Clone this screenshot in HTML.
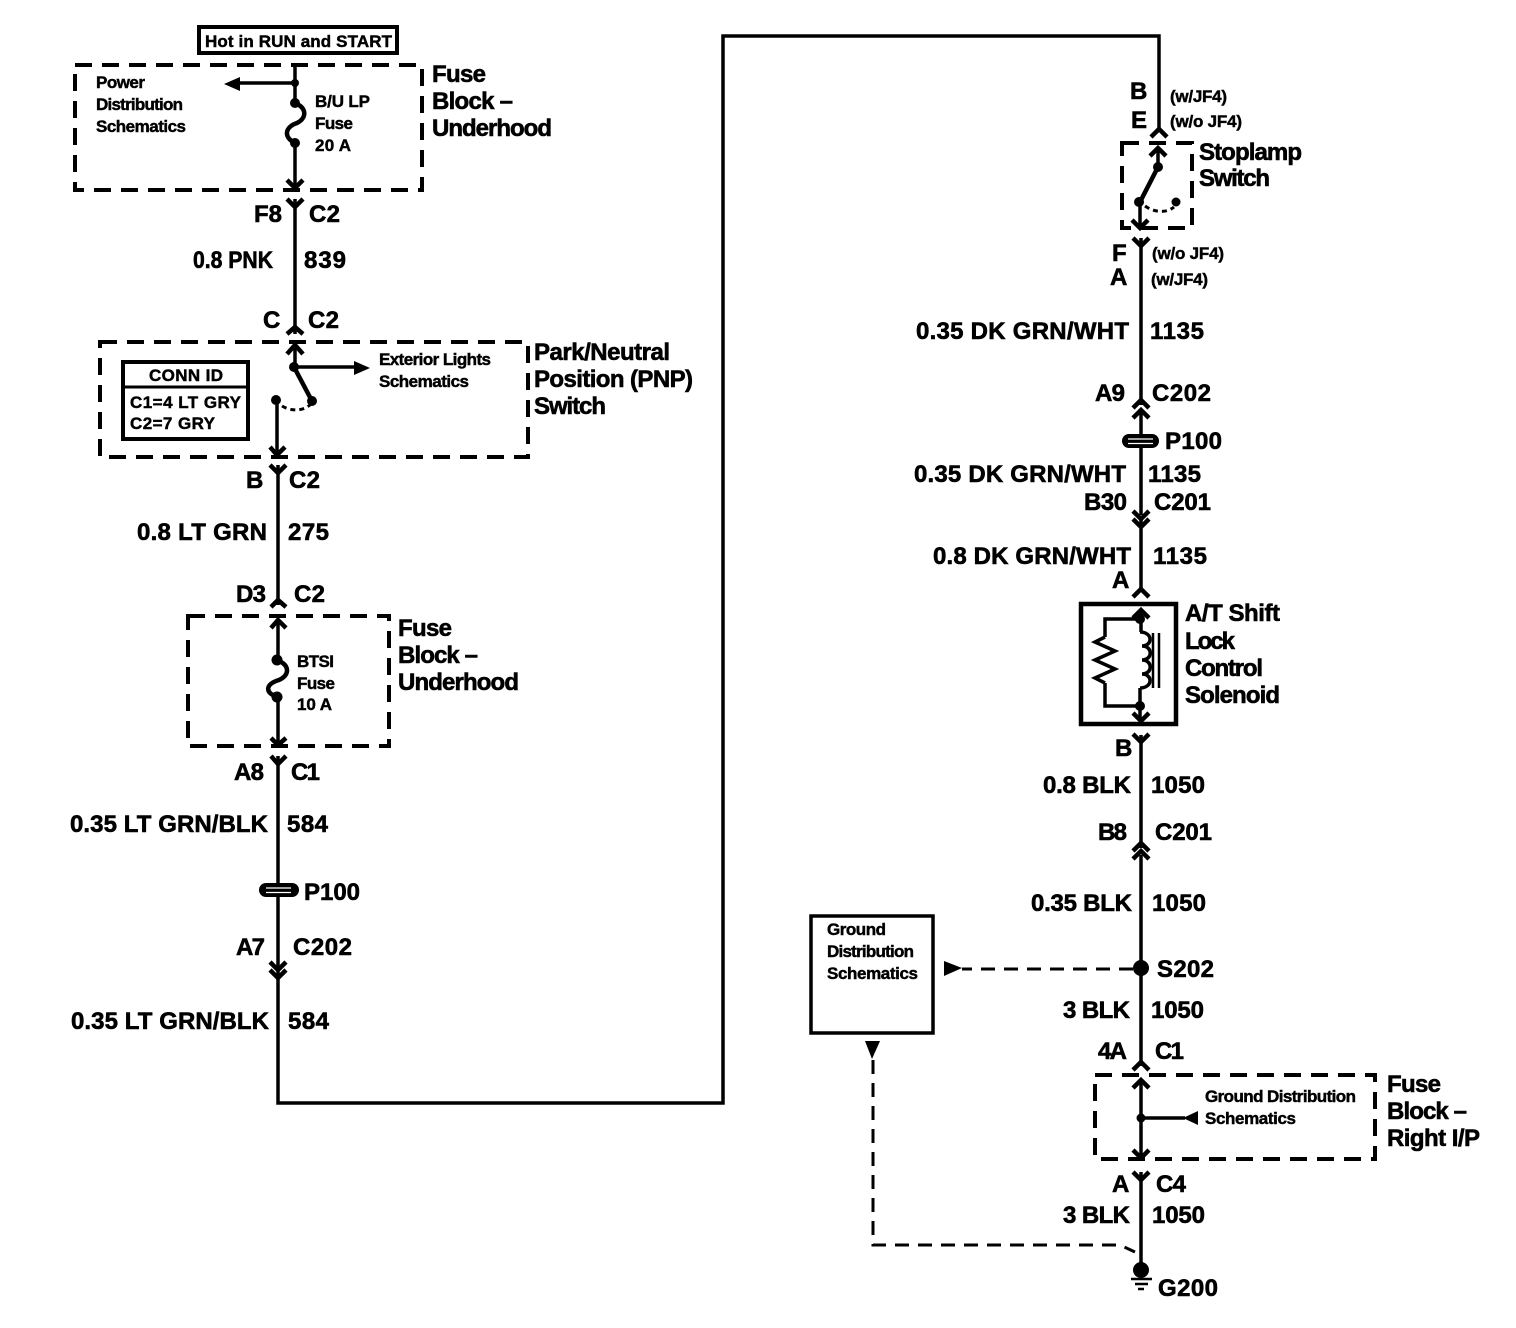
<!DOCTYPE html>
<html><head><meta charset="utf-8"><style>
html,body{margin:0;padding:0;background:#fff}
svg{display:block}
text{font-family:"Liberation Sans",sans-serif;font-weight:bold;fill:#000;stroke:#000}
.b{font-size:24px;stroke-width:.6}
.s{font-size:17px;stroke-width:.45}
.w{fill:none;stroke:#000;stroke-width:3.5}
.f{fill:none;stroke:#000;stroke-width:4.5}
.t{fill:none;stroke:#000;stroke-width:3}
.d{fill:none;stroke:#000;stroke-width:4;stroke-dasharray:17 10}
</style></head><body>
<svg width="1516" height="1328" viewBox="0 0 1516 1328" xmlns="http://www.w3.org/2000/svg">
<rect width="1516" height="1328" fill="#fff"/>
<!-- boxes -->
<rect x="199" y="27" width="198" height="26" fill="none" stroke="#000" stroke-width="4"/>
<rect class="d" x="75" y="65" width="347" height="125"/>
<rect class="d" x="100" y="342" width="428" height="115"/>
<rect class="d" x="188" y="616" width="201" height="130"/>
<rect class="d" x="1122" y="143" width="70" height="85"/>
<rect class="d" x="1095" y="1075" width="280" height="84"/>
<rect x="811" y="916" width="122" height="117" fill="none" stroke="#000" stroke-width="3.5"/>
<rect x="123" y="362" width="125" height="77" fill="none" stroke="#000" stroke-width="4"/>
<path d="M123 387H248" class="t"/>
<rect x="1081" y="604" width="95" height="120" fill="none" stroke="#000" stroke-width="4.5"/>
<!-- left wires -->
<path class="w" d="M295 65V103M295 83H238M295 143V188M295 199V334M295 346V367M277 400V455M278 465V605M278 620V660M278 697V744M278 756V1103H723V36H1159V132"/>
<path class="f" d="M294 367L312 401"/>
<path class="f" d="M295 103C307 108 307 118 297 123C285 127 283 137 295 143M277 660C290 665 290 675 279 680C266 684 264 692 277 697"/>
<path d="M224 84L240 77V91Z"/>
<path class="w" d="M295 367H355"/>
<path d="M370 368L354 361V375Z"/>
<circle cx="295" cy="83" r="4"/><circle cx="295" cy="103" r="5"/><circle cx="295" cy="143" r="5"/>
<circle cx="294" cy="367" r="5"/><circle cx="312" cy="401" r="5"/><circle cx="276" cy="400" r="5"/>
<circle cx="277" cy="660" r="5.5"/><circle cx="277" cy="697" r="5.5"/>
<path class="t" stroke-dasharray="5 4" d="M282 406C292 412 304 411 311 404"/>
<!-- chevrons left -->
<path class="f" stroke-width="4" d="M287 180L295 188L303 180M287 199L295 207L303 199M287 334L295 327L303 334M287 354L295 345L303 354M270 447L277 455L285 447M270 465L278 473L286 465M271 607L278 600L286 607M271 628L278 620L286 628M271 738L278 745L286 738M271 756L278 764L286 756M270 962L278 970L286 962M270 970L278 978L286 970"/>
<rect x="259" y="883" width="40" height="14" rx="7"/><path d="M266 888H291M266 892.500H291" stroke="#fff" stroke-width="1.2"/>
<!-- right wires -->
<path class="w" d="M1158 148V167M1140 202V226M1141 238V405M1141 412V515M1141 520V592M1141 610V632M1140 688V706M1140 706V720M1141 735V848M1141 855V1066M1141 1080V1155M1141 1172V1268M1141 1118H1185"/>
<path class="f" d="M1158 167L1140 202"/>
<path class="w" d="M1140 706H1105V683M1105 637V619H1140"/>
<path class="w" d="M1105 637L1095 642L1115 651L1095 660L1115 669L1095 678L1105 683"/>
<path class="w" d="M1140 632C1153 632 1153 646 1142 646C1153 646 1153 660 1142 660C1153 660 1153 674 1142 674C1153 674 1153 688 1140 688"/>
<path fill="none" stroke="#000" stroke-width="2.5" d="M1153 633V688M1159 633V688"/>
<path class="f" stroke-width="4" d="M1151 137L1159 129L1167 137M1150 156L1158 148L1166 156M1132 220L1140 228L1148 220M1133 238L1141 246L1149 238M1133 408L1141 400L1149 408M1133 418L1141 410L1149 418M1133 511L1141 519L1149 511M1133 519L1141 527L1149 519M1133 597L1141 589L1149 597M1133 618L1141 610L1149 618M1133 713L1141 721L1149 713M1133 734L1141 742L1149 734M1133 851L1141 843L1149 851M1133 859L1141 851L1149 859M1133 1070L1141 1062L1149 1070M1133 1088L1141 1080L1149 1088M1133 1150L1141 1158L1149 1150M1133 1172L1141 1180L1149 1172"/>
<circle cx="1158" cy="167" r="5"/><circle cx="1139" cy="202" r="5"/><circle cx="1176" cy="202" r="4.5"/>
<path class="t" stroke-dasharray="5 4" d="M1145 206C1155 213 1167 213 1174 207"/>
<rect x="1122" y="434" width="37" height="14" rx="7"/><path d="M1128 439H1153M1128 443.500H1153" stroke="#fff" stroke-width="1.2"/>
<circle cx="1140" cy="619" r="5"/><circle cx="1140" cy="706" r="5"/>
<circle cx="1141" cy="968" r="8"/><circle cx="1141" cy="1118" r="4.500"/>
<path d="M1183 1118L1198 1111V1125Z"/>
<circle cx="1141" cy="1270" r="8"/>
<path d="M1131 1279H1152M1135 1284H1148M1138 1289H1144" stroke="#000" stroke-width="2.5"/>
<!-- dashed ground -->
<path class="t" stroke-dasharray="14 9" d="M1133 969H962M873 1060V1245H1120L1135 1252"/>
<path d="M962 968L944 961V976Z"/>
<path d="M872 1059L865 1041H880Z"/>
<!-- text small -->
<g class="s">
<text x="205" y="47" textLength="187">Hot in RUN and START</text>
<text x="96" y="88" textLength="49">Power</text><text x="96" y="110" textLength="87">Distribution</text><text x="96" y="132" textLength="90">Schematics</text>
<text x="315" y="107" textLength="55">B/U LP</text><text x="315" y="129" textLength="38">Fuse</text><text x="315" y="151" textLength="36">20 A</text>
<text x="379" y="365" textLength="112">Exterior Lights</text><text x="379" y="387" textLength="90">Schematics</text>
<text x="149" y="381" textLength="74">CONN ID</text><text x="130" y="408" textLength="111">C1=4 LT GRY</text><text x="130" y="429" textLength="85">C2=7 GRY</text>
<text x="297" y="667" textLength="37">BTSI</text><text x="297" y="689" textLength="38">Fuse</text><text x="297" y="710" textLength="35">10 A</text>
<text x="827" y="935" textLength="59">Ground</text><text x="827" y="957" textLength="87">Distribution</text><text x="827" y="979" textLength="91">Schematics</text>
<text x="1205" y="1102" textLength="151">Ground Distribution</text><text x="1205" y="1124" textLength="91">Schematics</text>
<text x="1170" y="102" textLength="57">(w/JF4)</text><text x="1170" y="127" textLength="72">(w/o JF4)</text>
<text x="1152" y="259" textLength="72">(w/o JF4)</text><text x="1151" y="285" textLength="57">(w/JF4)</text>
</g>
<!-- text big -->
<g class="b" transform="translate(0,-1)">
<text x="432" y="83" textLength="54">Fuse</text><text x="432" y="110" textLength="81">Block –</text><text x="432" y="137" textLength="120">Underhood</text>
<text x="254" y="223" textLength="28">F8</text><text x="309" y="223" textLength="31">C2</text>
<text x="193" y="269" textLength="80" lengthAdjust="spacingAndGlyphs">0.8 PNK</text><text x="304" y="269" textLength="42">839</text>
<text x="263" y="329" textLength="17">C</text><text x="308" y="329" textLength="31">C2</text>
<text x="534" y="361" textLength="136">Park/Neutral</text><text x="534" y="388" textLength="159">Position (PNP)</text><text x="534" y="415" textLength="72">Switch</text>
<text x="246" y="489" textLength="15">B</text><text x="289" y="489" textLength="31">C2</text>
<text x="137" y="541" textLength="130">0.8 LT GRN</text><text x="288" y="541" textLength="41">275</text>
<text x="236" y="603" textLength="30">D3</text><text x="294" y="603" textLength="31">C2</text>
<text x="398" y="637" textLength="54">Fuse</text><text x="398" y="664" textLength="80">Block –</text><text x="398" y="691" textLength="121">Underhood</text>
<text x="234" y="781" textLength="30">A8</text><text x="291" y="781" textLength="29">C1</text>
<text x="70" y="833" textLength="198">0.35 LT GRN/BLK</text><text x="287" y="833" textLength="41">584</text>
<text x="304" y="901" textLength="56">P100</text>
<text x="236" y="956" textLength="29">A7</text><text x="293" y="956" textLength="59">C202</text>
<text x="71" y="1030" textLength="198">0.35 LT GRN/BLK</text><text x="288" y="1030" textLength="41">584</text>
<text x="1130" y="100" textLength="16">B</text><text x="1131" y="129" textLength="15">E</text>
<text x="1199" y="161" textLength="103">Stoplamp</text><text x="1199" y="187" textLength="71">Switch</text>
<text x="1112" y="262" textLength="14">F</text><text x="1110" y="286" textLength="18">A</text>
<text x="916" y="340" textLength="213">0.35 DK GRN/WHT</text><text x="1150" y="340" textLength="54">1135</text>
<text x="1095" y="402" textLength="30">A9</text><text x="1152" y="402" textLength="59">C202</text>
<text x="1165" y="450" textLength="57">P100</text>
<text x="914" y="483" textLength="212">0.35 DK GRN/WHT</text><text x="1148" y="483" textLength="53">1135</text>
<text x="1084" y="511" textLength="43">B30</text><text x="1154" y="511" textLength="57">C201</text>
<text x="933" y="565" textLength="198">0.8 DK GRN/WHT</text><text x="1153" y="565" textLength="54">1135</text>
<text x="1112" y="589" textLength="17">A</text>
<text x="1185" y="622" textLength="95">A/T Shift</text><text x="1185" y="650" textLength="50">Lock</text><text x="1185" y="677" textLength="78">Control</text><text x="1185" y="704" textLength="95">Solenoid</text>
<text x="1115" y="757" textLength="15">B</text>
<text x="1043" y="794" textLength="88">0.8 BLK</text><text x="1151" y="794" textLength="54">1050</text>
<text x="1098" y="841" textLength="29">B8</text><text x="1155" y="841" textLength="57">C201</text>
<text x="1031" y="912" textLength="101">0.35 BLK</text><text x="1152" y="912" textLength="54">1050</text>
<text x="1157" y="978" textLength="57">S202</text>
<text x="1063" y="1019" textLength="67">3 BLK</text><text x="1151" y="1019" textLength="53">1050</text>
<text x="1098" y="1060" textLength="29">4A</text><text x="1155" y="1060" textLength="29">C1</text>
<text x="1387" y="1093" textLength="54">Fuse</text><text x="1387" y="1120" textLength="80">Block –</text><text x="1387" y="1147" textLength="93">Right I/P</text>
<text x="1112" y="1193" textLength="17">A</text><text x="1156" y="1193" textLength="30">C4</text>
<text x="1063" y="1224" textLength="67">3 BLK</text><text x="1152" y="1224" textLength="53">1050</text>
<text x="1158" y="1297" textLength="60">G200</text>
</g>
</svg>
</body></html>
